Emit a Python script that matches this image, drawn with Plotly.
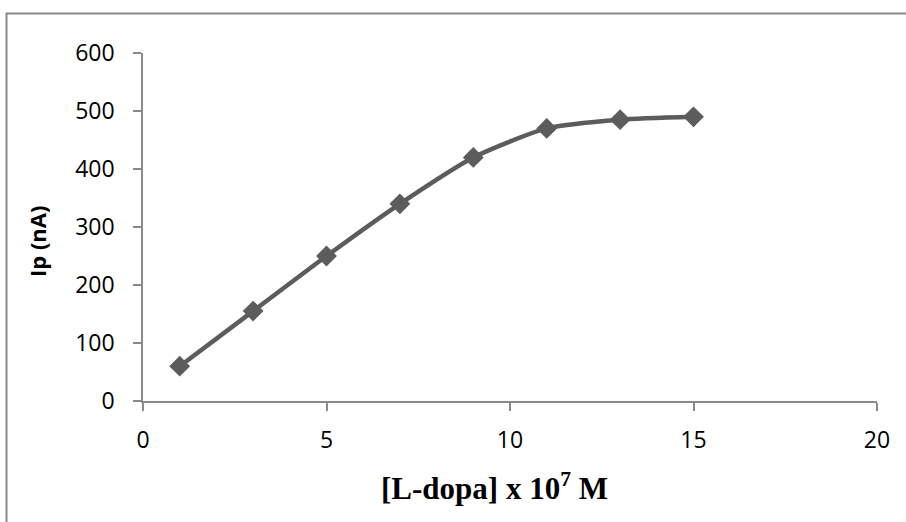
import plotly.graph_objects as go

conc = [1, 3, 5, 7, 9, 11, 13, 15]
ip_na = [60, 155, 250, 340, 420, 470, 485, 490]
x_ticks = [0, 5, 10, 15, 20]
y_ticks = [0, 100, 200, 300, 400, 500, 600]

W, H = 906, 522
L, R, T, B = 143, 29, 53, 121
pw, ph = W - L - R, H - T - B

def px_to_paper_x(px):
    return (px - L) / pw

def px_to_paper_y(py):
    return (H - B - py) / ph

fig = go.Figure()
fig.add_trace(go.Scatter(
    x=conc, y=ip_na, mode="lines+markers",
    line=dict(color="#5c5c5c", width=4.5, shape="spline", smoothing=0.6),
    marker=dict(symbol="diamond", size=16, color="#5c5c5c"),
    showlegend=False,
))

axis_common = dict(
    showgrid=False, zeroline=False, showline=True, linecolor="#8a8a8a", linewidth=1.5,
    ticks="outside", ticklen=8, tickcolor="#8a8a8a", tickwidth=1.5,
    tickfont=dict(family="Open Sans, Lato, sans-serif", size=23, color="#000"),
)

fig.update_layout(
    width=W, height=H,
    margin=dict(l=L, r=R, t=T, b=B),
    paper_bgcolor="white", plot_bgcolor="white",
    xaxis=dict(range=[0, 20], tickvals=x_ticks, ticklabelstandoff=10, **axis_common),
    yaxis=dict(range=[0, 600], tickvals=y_ticks, ticklabelstandoff=14, **axis_common),
    shapes=[dict(
        type="rect", xref="paper", yref="paper",
        x0=px_to_paper_x(6.5), x1=px_to_paper_x(920),
        y0=px_to_paper_y(540), y1=px_to_paper_y(13.5),
        line=dict(color="#8a8a8a", width=2), fillcolor="rgba(0,0,0,0)", layer="below",
    )],
    annotations=[
        dict(text="<b>Ip (nA)</b>", xref="paper", yref="paper",
             x=px_to_paper_x(37), y=px_to_paper_y(242), textangle=-90,
             showarrow=False, xanchor="center", yanchor="middle",
             font=dict(family="Open Sans, Lato, sans-serif", size=22, color="#000")),
        dict(text="<b>[L-dopa] x 10<sup>7</sup> M</b>", xref="paper", yref="paper",
             x=px_to_paper_x(494), y=px_to_paper_y(486),
             showarrow=False, xanchor="center", yanchor="middle",
             font=dict(family="Liberation Serif, Times New Roman, serif", size=31, color="#000")),
    ],
)

fig.write_html("out.html")
